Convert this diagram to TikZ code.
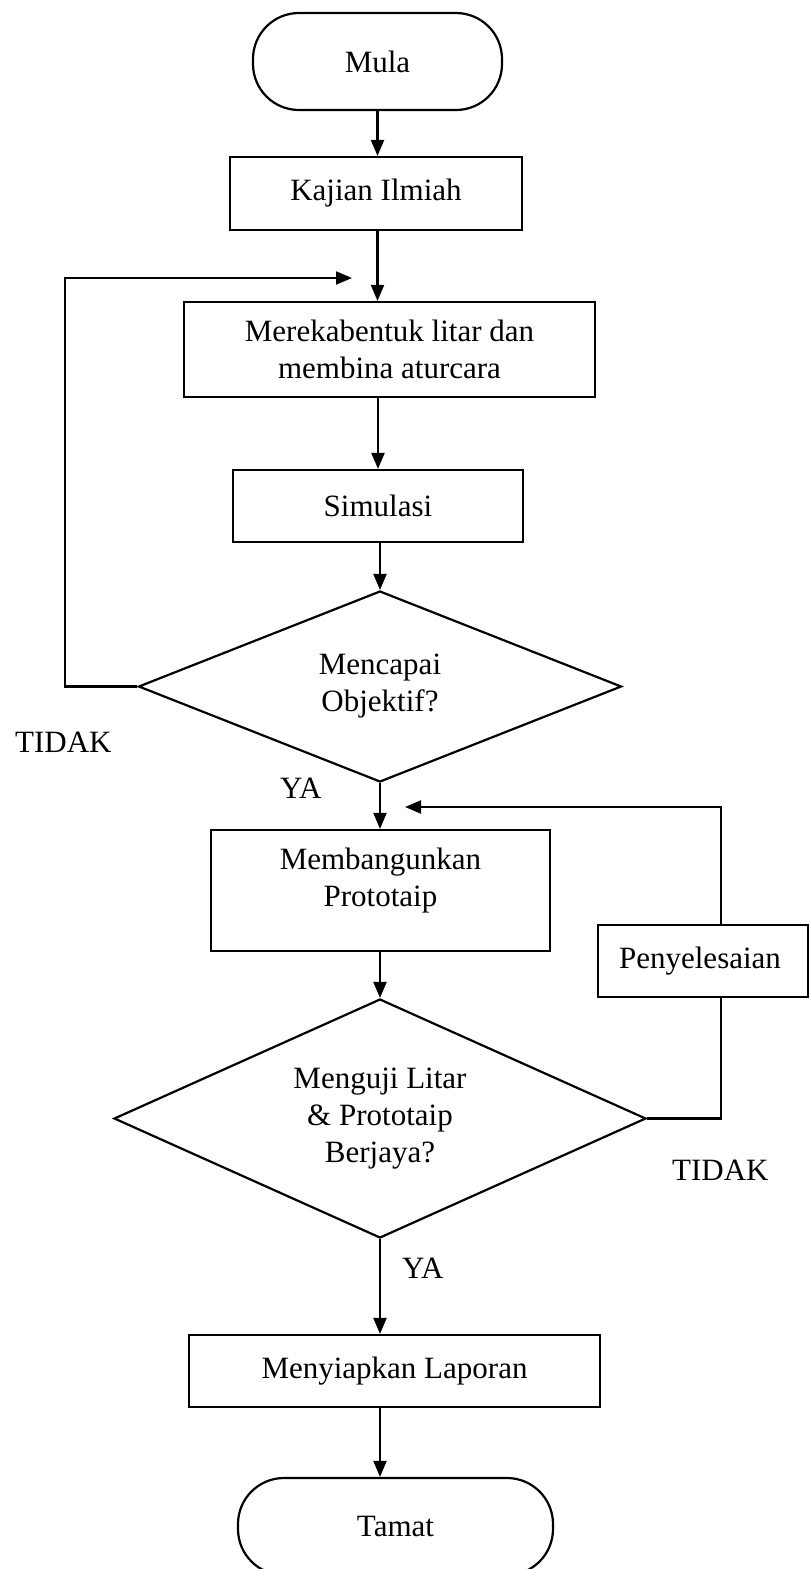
\documentclass[tikz,border=0pt]{standalone}
\usepackage{fontspec}
\setmainfont{Liberation Serif}
\usetikzlibrary{shapes.geometric,arrows.meta}
\begin{document}
\begin{tikzpicture}[x=1pt,y=-1pt,
  every node/.style={font=\fontsize{31}{37}\selectfont, inner sep=0pt},
  line/.style={line width=2.2pt, line join=miter},
  arr/.style={line, -{Triangle[length=16pt,width=13pt]}},
  box/.style={line, draw, rectangle, align=center},
  term/.style={line, draw, rectangle, rounded corners=46pt, align=center},
  dec/.style={line, draw, diamond, align=center},
  lbl/.style={anchor=base west}]
\clip (0,0) rectangle (810,1569);
\fill[white] (0,0) rectangle (810,1569);

\node[term, minimum width=249pt, minimum height=97pt] (mula) at (377.5,61.5) {Mula};
\node[box, minimum width=292pt, minimum height=73pt] (kajian) at (376,193.5) {Kajian Ilmiah};
\node[box, minimum width=411pt, minimum height=95pt] (mereka) at (389.5,349.5) {Merekabentuk litar dan\\membina aturcara};
\node[box, minimum width=290pt, minimum height=72pt] (sim) at (378,506) {Simulasi};
\node[dec, aspect=2.53, minimum width=483pt, minimum height=191pt] (d1) at (380,686.5) {Mencapai\\Objektif?};
\node[box, minimum width=339pt, minimum height=121pt,
  label={[align=center, yshift=9.5pt]center:{Membangunkan\\Prototaip}}] (memb) at (380.5,890.5) {};
\node[box, minimum width=210pt, minimum height=72pt,
  label={[anchor=west, xshift=22pt]west:Penyelesaian}] (peny) at (703,961) {};
\node[dec, aspect=2.23, minimum width=532pt, minimum height=239pt] (d2) at (380,1118.5) {Menguji Litar\\\& Prototaip\\Berjaya?};
\node[box, minimum width=411pt, minimum height=72pt] (lap) at (394.5,1371) {Menyiapkan Laporan};
\node[term, minimum width=315pt, minimum height=97pt] (tamat) at (395.5,1526.5) {Tamat};

\node[lbl] (tidak1) at (15,752) {TIDAK};
\node[lbl] (ya1) at (280,798) {YA};
\node[lbl] (tidak2) at (672,1180) {TIDAK};
\node[lbl] (ya2) at (402,1278) {YA};

\coordinate (lcol) at (65,0);
\coordinate (fb1) at (352,278);
\coordinate (pcol) at (721,0);
\coordinate (fb2) at (405,807);

\draw[arr] (mula.south) -- (mula.south |- kajian.north);
\draw[arr] (mula.south |- kajian.south) -- (mula.south |- mereka.north);
\draw[arr] (sim.north |- mereka.south) -- (sim.north);
\draw[arr] (d1.north |- sim.south) -- (d1.north);
\draw[arr] (d1.south) -- (d1.south |- memb.north);
\draw[arr] (d1.south |- memb.south) -- (d2.north);
\draw[arr] (d2.south) -- (d2.south |- lap.north);
\draw[arr] (d2.south |- lap.south) -- (d2.south |- tamat.north);

\draw[arr] (d1.west) -- (d1.west -| lcol) -- (lcol |- fb1) -- (fb1);
\draw[line] (d2.east) -- (d2.east -| pcol) -- (pcol |- peny.south);
\draw[arr] (pcol |- peny.north) -- (pcol |- fb2) -- (fb2);
\end{tikzpicture}
\end{document}
